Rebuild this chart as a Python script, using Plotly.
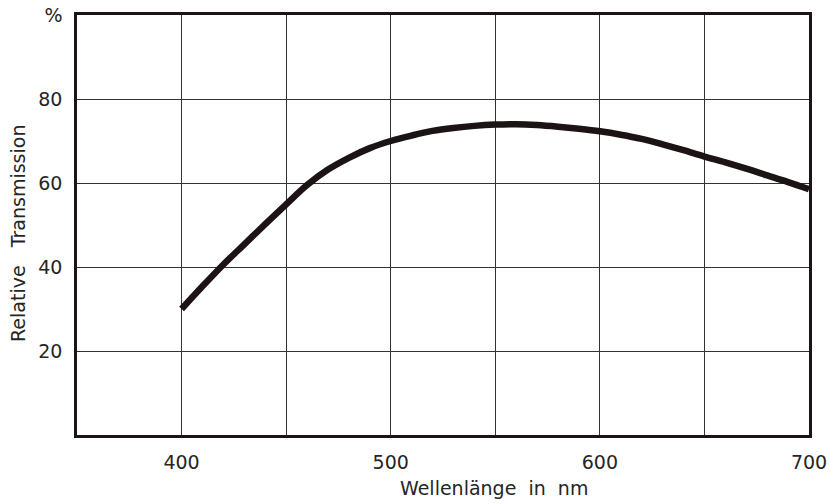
import plotly.graph_objects as go

wavelength = [400, 410, 420, 430, 440, 450, 460, 470, 480, 490, 500, 510, 520, 530, 540,
              550, 560, 570, 580, 590, 600, 610, 620, 630, 640, 650, 660, 670, 680, 690, 700]
transmission = [30.0, 35.4, 40.6, 45.4, 50.2, 54.9, 59.5, 63.2, 66.0, 68.3, 70.0, 71.3, 72.4,
                 73.1, 73.6, 73.9, 74.0, 73.8, 73.4, 72.9, 72.3, 71.5, 70.5, 69.2, 67.8, 66.3,
                 64.9, 63.4, 61.8, 60.2, 58.5]

x_tickvals = [400, 500, 600, 700]
x_ticktext = ["400", "500", "600", "700"]
x_minor_grid = [450, 550, 650]
y_tickvals = [20, 40, 60, 80, 100]
y_ticktext = ["20", "40", "60", "80", "%"]

ink = "#1c1414"
text_col = "#252525"
font_family = "DejaVu Sans, sans-serif"

fig = go.Figure()
fig.add_trace(go.Scatter(
    x=wavelength, y=transmission, mode="lines",
    line=dict(color=ink, width=6.5, shape="spline", smoothing=1.0),
    showlegend=False, hoverinfo="skip",
))

fig.update_layout(
    width=829, height=504,
    margin=dict(l=77, r=20, t=15, b=69),
    paper_bgcolor="white", plot_bgcolor="white",
    font=dict(family=font_family, color=text_col, size=19),
    xaxis=dict(
        range=[350, 700], tickvals=x_tickvals, ticktext=x_ticktext,
        showgrid=True, gridcolor="#333", gridwidth=1,
        minor=dict(tickvals=x_minor_grid, showgrid=True, gridcolor="#333", gridwidth=1, ticks=""),
        showline=True, linecolor=ink, linewidth=2.5, mirror=True, automargin=False,
        ticks="", zeroline=False, tickfont=dict(size=19), ticklabelstandoff=8,
    ),
    yaxis=dict(
        range=[0, 100], tickvals=y_tickvals, ticktext=y_ticktext,
        showgrid=True, gridcolor="#333", gridwidth=1,
        showline=True, linecolor=ink, linewidth=2.5, mirror=True, automargin=False,
        ticks="", zeroline=False, tickfont=dict(size=19), ticklabelstandoff=8,
    ),
    annotations=[
        dict(text="Wellenlänge  in  nm", xref="paper", yref="paper", x=(494 - 77) / 732, y=-0.095,
             xanchor="center", yanchor="top", showarrow=False, font=dict(size=19, color=text_col)),
        dict(text="Relative   Transmission", xref="paper", yref="paper", x=-0.062, y=0.48,
             xanchor="right", yanchor="middle", textangle=-90, showarrow=False,
             font=dict(size=19, color=text_col)),
    ],
)

fig.write_html("out.html")
